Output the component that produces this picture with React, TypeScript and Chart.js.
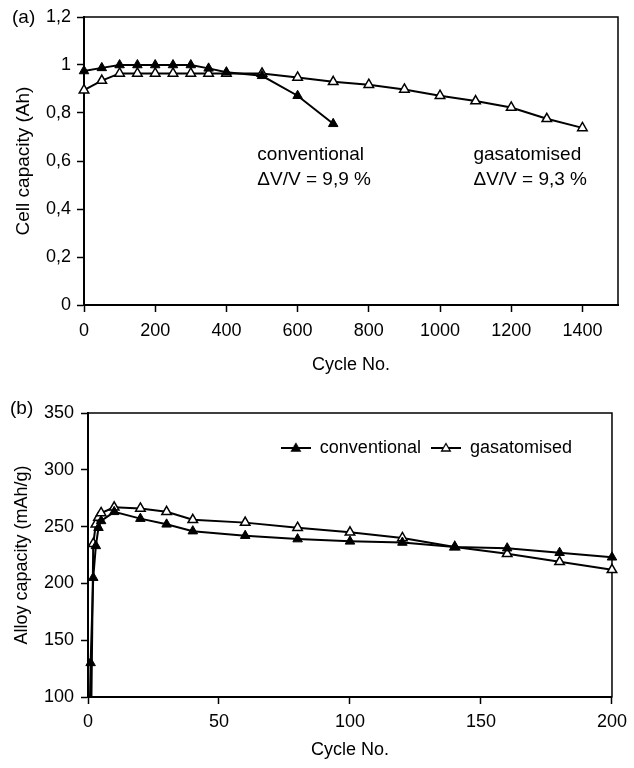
import React, { useEffect, useRef } from 'react';
import { Chart, registerables } from 'chart.js';

Chart.register(...registerables);

const FONT = '"Liberation Sans", Arial, Helvetica, sans-serif';
Chart.defaults.font.family = FONT;
Chart.defaults.color = '#000';

// ---------- (a) cell capacity vs cycle ----------
const cyclesConvA = [0, 50, 100, 150, 200, 250, 300, 350, 400, 500, 600, 700];
const capConvA = [0.975, 0.988, 1.0, 1.0, 1.0, 1.0, 1.0, 0.986, 0.97, 0.955, 0.872, 0.755];
const cyclesGasA = [0, 50, 100, 150, 200, 250, 300, 350, 400, 500, 600, 700, 800, 900, 1000, 1100, 1200, 1300, 1400];
const capGasA = [0.895, 0.935, 0.965, 0.965, 0.965, 0.965, 0.965, 0.965, 0.965, 0.965, 0.948, 0.93, 0.918, 0.898, 0.872, 0.85, 0.823, 0.776, 0.738];
const xTicksA = [0, 200, 400, 600, 800, 1000, 1200, 1400];
const yTicksA = [0, 0.2, 0.4, 0.6, 0.8, 1, 1.2];
const noteConv = ['conventional', 'ΔV/V = 9,9 %'];
const noteGas = ['gasatomised', 'ΔV/V = 9,3 %'];

// ---------- (b) alloy capacity vs cycle ----------
const cyclesConvB = [0, 1, 2, 3, 4, 5, 10, 20, 30, 40, 60, 80, 100, 120, 140, 160, 180, 200];
const capConvB = [0, 130, 205, 233, 249, 255, 263, 257, 252, 246, 242, 239, 237, 236, 232, 231, 227, 223];
const cyclesGasB = [1, 2, 3, 4, 5, 10, 20, 30, 40, 60, 80, 100, 120, 140, 160, 180, 200];
const capGasB = [40, 235, 252, 258, 262, 267, 266, 263, 256, 253.5, 249, 245, 240, 232, 226, 219, 212];
const xTicksB = [0, 50, 100, 150, 200];
const yTicksB = [100, 150, 200, 250, 300, 350];

const seriesNames = ['conventional', 'gasatomised'];

const toPoints = (xs: number[], ys: number[]) => xs.map((x, i) => ({ x, y: ys[i] }));

const framePlugin = {
  id: 'frame',
  beforeDatasetsDraw(chart: any) {
    const { ctx, chartArea: a } = chart;
    ctx.save();
    ctx.strokeStyle = '#000';
    ctx.lineWidth = 1.5;
    ctx.strokeRect(a.left, a.top, a.right - a.left, a.bottom - a.top);
    ctx.restore();
  },
};

const notesPlugin = {
  id: 'notes',
  afterDatasetsDraw(chart: any) {
    const { ctx, scales } = chart;
    const place = [
      { lines: noteConv, x: 487, y: 0.625 },
      { lines: noteGas, x: 1094, y: 0.625 },
    ];
    ctx.save();
    ctx.font = `19px ${FONT}`;
    ctx.fillStyle = '#000';
    ctx.textBaseline = 'middle';
    ctx.textAlign = 'left';
    place.forEach((p) => {
      const px = scales.x.getPixelForValue(p.x);
      const py = scales.y.getPixelForValue(p.y);
      p.lines.forEach((t, j) => ctx.fillText(t, px, py + j * 25));
    });
    ctx.restore();
  },
};

// Puts the (top) legend inside the plot area, near its top right corner.
const legendInside = {
  id: 'legendInside',
  beforeLayout(chart: any) {
    const l = chart.legend;
    if (l && !l.__patched) {
      const fit = l.fit;
      l.fit = function () {
        fit.call(this);
        this.height = 0;
      };
      l.__patched = true;
    }
  },
  afterLayout(chart: any) {
    const l = chart.legend;
    const a = chart.chartArea;
    if (!l) return;
    l.left = a.left;
    l.right = a.right - 30;
    l.width = l.right - l.left;
    l.top = a.top + 16;
    l.bottom = l.top + 40;
    l.height = 40;
  },
};

function makeIcon(filled: boolean): HTMLCanvasElement {
  const c = document.createElement('canvas');
  c.width = 30;
  c.height = 14;
  const g = c.getContext('2d')!;
  g.strokeStyle = '#000';
  g.lineWidth = 2;
  g.beginPath();
  g.moveTo(0, 7);
  g.lineTo(30, 7);
  g.stroke();
  const r = 5;
  const cx = 15;
  const cy = 7.5;
  g.beginPath();
  g.moveTo(cx, cy - r);
  g.lineTo(cx + r * 0.866, cy + r * 0.5);
  g.lineTo(cx - r * 0.866, cy + r * 0.5);
  g.closePath();
  g.fillStyle = filled ? '#000' : '#fff';
  g.fill();
  g.lineWidth = 1.3;
  g.stroke();
  return c;
}

const seriesStyle = (filled: boolean) => ({
  borderColor: '#000',
  borderWidth: 2,
  pointStyle: 'triangle',
  pointRadius: 5.5,
  pointBackgroundColor: filled ? '#000' : '#fff',
  pointBorderColor: '#000',
  pointBorderWidth: filled ? 1 : 1.5,
  tension: 0,
  fill: false,
});

const axisCommon = () => ({
  type: 'linear',
  grid: { drawOnChartArea: false, drawTicks: true, tickLength: 7, tickColor: '#000', tickWidth: 1.5, color: '#000' },
  border: { display: true, color: '#000', width: 2 },
});

const tickFont = { size: 18, family: FONT };
const fmtComma = (v: any) => String(Math.round(Number(v) * 10) / 10).replace('.', ',');
const fmtPlain = (v: any) => String(v);

function configA(): any {
  return {
    type: 'line',
    data: {
      datasets: [
        { label: seriesNames[0], data: toPoints(cyclesConvA, capConvA), ...seriesStyle(true), clip: false },
        { label: seriesNames[1], data: toPoints(cyclesGasA, capGasA), ...seriesStyle(false), clip: false },
      ],
    },
    options: {
      responsive: false,
      animation: false,
      layout: { padding: { top: 17, right: 16, left: 0, bottom: 0 } },
      plugins: { legend: { display: false }, tooltip: { enabled: false } },
      scales: {
        x: {
          ...axisCommon(),
          min: 0,
          max: 1500,
          afterBuildTicks: (s: any) => { s.ticks = xTicksA.map((value) => ({ value })); },
          afterFit: (s: any) => { s.height = 80; },
          ticks: { font: tickFont, color: '#000', padding: 8, callback: fmtPlain },
          title: { display: true, text: 'Cycle No.', font: { size: 18, family: FONT }, color: '#000', padding: { top: 0, bottom: 9 } },
        },
        y: {
          ...axisCommon(),
          min: 0,
          max: 1.2,
          afterBuildTicks: (s: any) => { s.ticks = yTicksA.map((value) => ({ value })); },
          afterFit: (s: any) => { s.width = 84; },
          ticks: { font: tickFont, color: '#000', padding: 6, callback: fmtComma },
          title: { display: true, text: 'Cell capacity (Ah)', font: { size: 19, family: FONT }, color: '#000', padding: { top: 12, bottom: 0 } },
        },
      },
    },
    plugins: [framePlugin, notesPlugin],
  };
}

function configB(): any {
  const icons = [makeIcon(true), makeIcon(false)];
  return {
    type: 'line',
    data: {
      datasets: [
        { label: seriesNames[0], data: toPoints(cyclesConvB, capConvB), ...seriesStyle(true), clip: { left: 10, right: 10, top: 10, bottom: 0 } },
        { label: seriesNames[1], data: toPoints(cyclesGasB, capGasB), ...seriesStyle(false), clip: { left: 10, right: 10, top: 10, bottom: 0 } },
      ],
    },
    options: {
      responsive: false,
      animation: false,
      layout: { padding: { top: 28, right: 14, left: 0, bottom: 0 } },
      plugins: {
        tooltip: { enabled: false },
        legend: {
          display: true,
          position: 'top',
          align: 'end',
          labels: {
            font: { size: 18, family: FONT },
            color: '#000',
            padding: 10,
            usePointStyle: true,
            pointStyleWidth: 30,
            generateLabels: (chart: any) =>
              chart.data.datasets.map((ds: any, i: number) => ({
                text: ds.label,
                pointStyle: icons[i],
                datasetIndex: i,
                hidden: false,
                fillStyle: '#000',
                strokeStyle: '#000',
                lineWidth: 0,
                fontColor: '#000',
              })),
          },
        },
      },
      scales: {
        x: {
          ...axisCommon(),
          min: 0,
          max: 200,
          afterBuildTicks: (s: any) => { s.ticks = xTicksB.map((value) => ({ value })); },
          afterFit: (s: any) => { s.height = 71; },
          ticks: { font: tickFont, color: '#000', padding: 7, callback: fmtPlain },
          title: { display: true, text: 'Cycle No.', font: { size: 18, family: FONT }, color: '#000', padding: { top: 0, bottom: 7 } },
        },
        y: {
          ...axisCommon(),
          min: 100,
          max: 350,
          afterBuildTicks: (s: any) => { s.ticks = yTicksB.map((value) => ({ value })); },
          afterFit: (s: any) => { s.width = 88; },
          ticks: { font: tickFont, color: '#000', padding: 7, callback: fmtPlain },
          title: { display: true, text: 'Alloy capacity (mAh/g)', font: { size: 18, family: FONT }, color: '#000', padding: { top: 11, bottom: 0 } },
        },
      },
    },
    plugins: [framePlugin, legendInside],
  };
}

function ChartCanvas({ make, width, height }: { make: () => any; width: number; height: number }) {
  const ref = useRef<HTMLCanvasElement>(null);
  useEffect(() => {
    const chart = new Chart(ref.current as HTMLCanvasElement, make());
    return () => chart.destroy();
  }, []);
  return <canvas ref={ref} width={width} height={height} style={{ display: 'block', width, height }} />;
}

const panelLabel: React.CSSProperties = {
  position: 'absolute',
  fontFamily: FONT,
  fontSize: 19,
  lineHeight: '20px',
  color: '#000',
};

export default function App() {
  return (
    <div style={{ position: 'fixed', left: 0, top: 0, width: 634, height: 768, background: '#fff', overflow: 'hidden' }}>
      <div style={{ position: 'absolute', left: 0, top: 0, width: 634, height: 385 }}>
        <ChartCanvas make={configA} width={634} height={385} />
      </div>
      <div style={{ position: 'absolute', left: 0, top: 385, width: 634, height: 383 }}>
        <ChartCanvas make={configB} width={634} height={383} />
      </div>
      <span style={{ ...panelLabel, left: 12, top: 7 }}>(a)</span>
      <span style={{ ...panelLabel, left: 10, top: 398 }}>(b)</span>
    </div>
  );
}
